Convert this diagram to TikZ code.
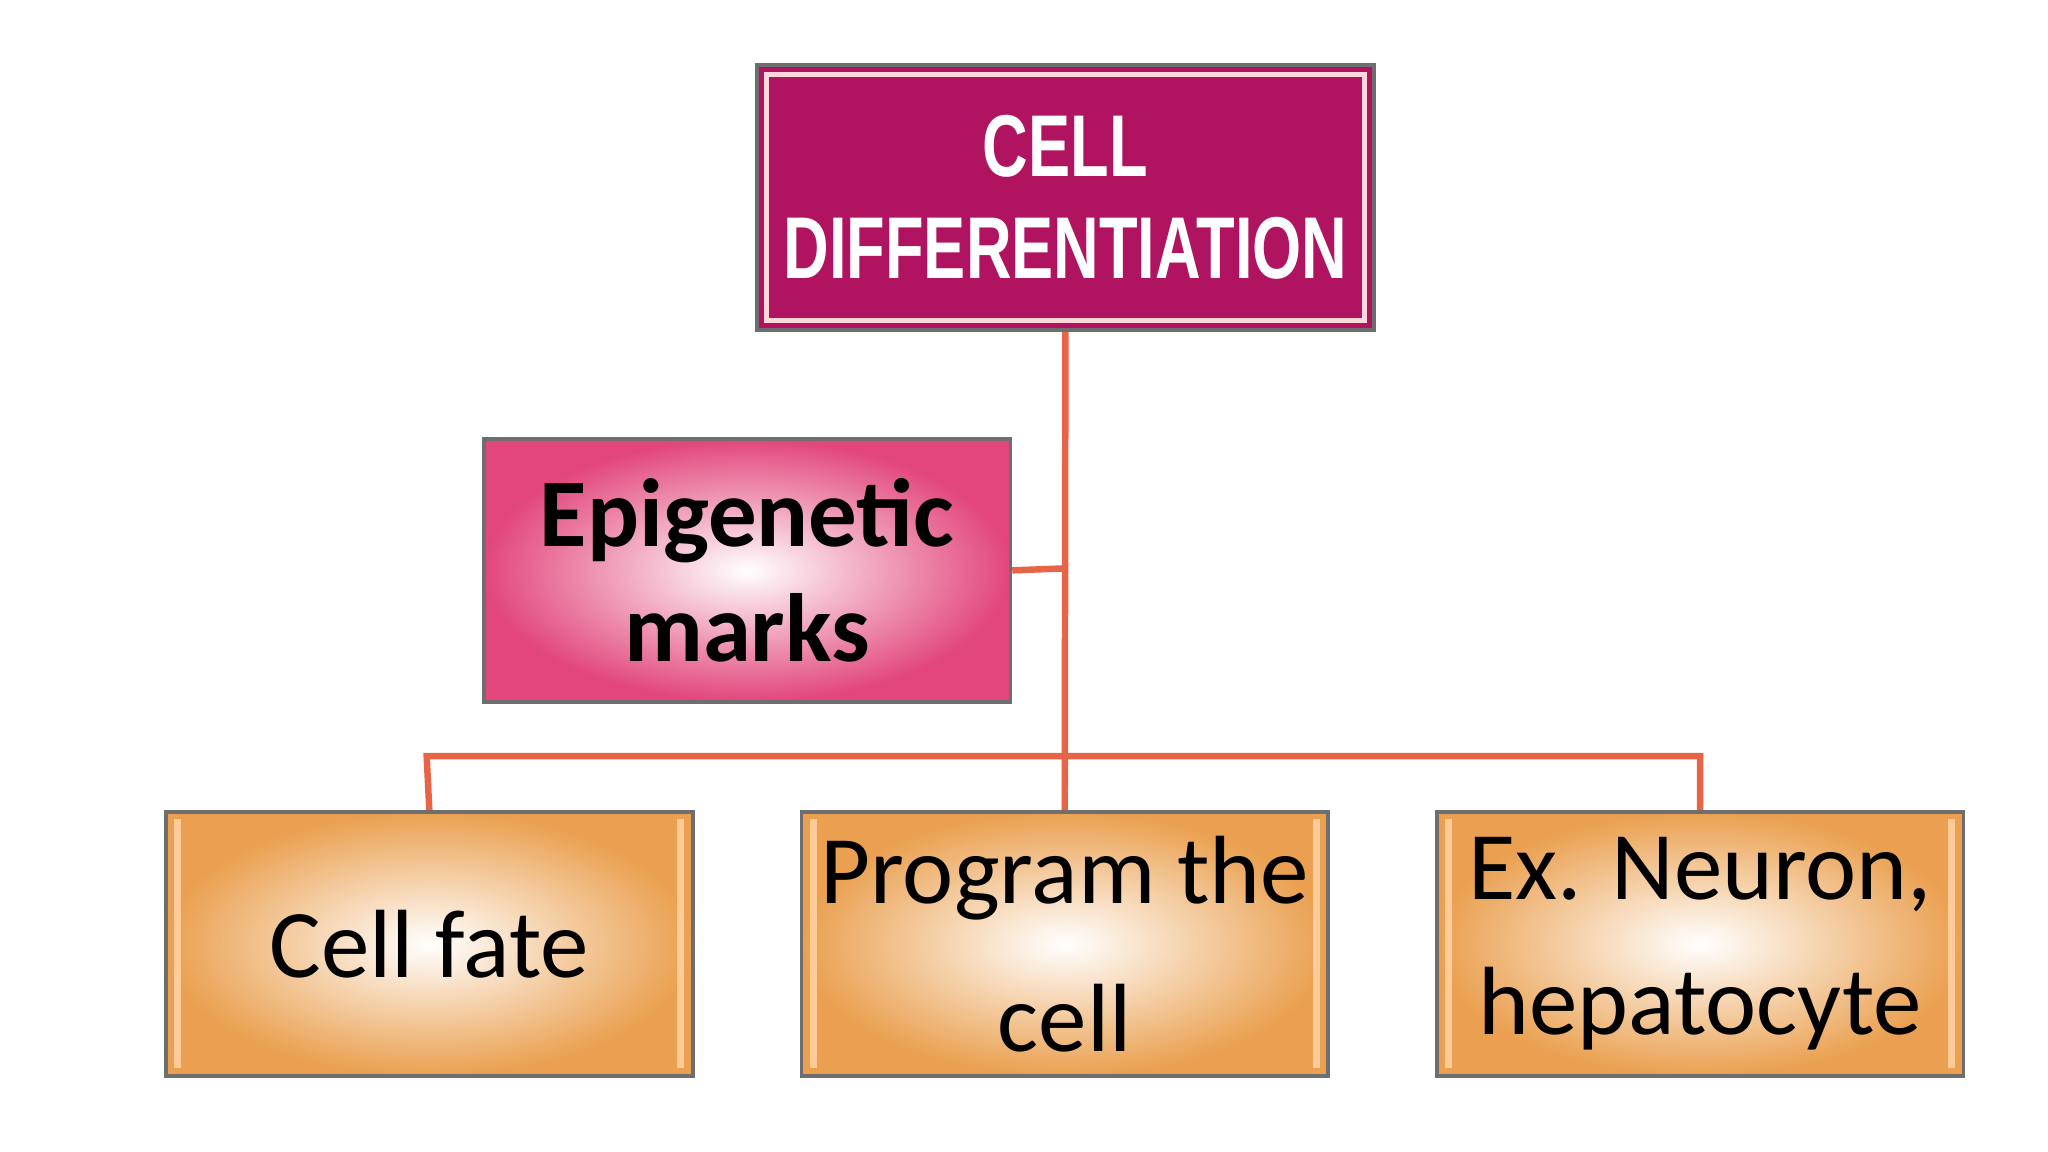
\documentclass[tikz,border=0pt]{standalone}
\usepackage{fontspec}
\setmainfont{Carlito}
\newfontfamily\headfont{Liberation Sans}[FakeStretch=0.72]
\definecolor{topfill}{RGB}{176,19,96}
\definecolor{pinkout}{RGB}{226,70,124}
\definecolor{orangeout}{RGB}{234,160,80}
\definecolor{linec}{RGB}{232,100,70}
\definecolor{edgec}{RGB}{110,110,110}
\begin{document}
\begin{tikzpicture}[x=0.01cm,y=-0.01cm,
  box/.style={draw=edgec,line width=0.8pt,inner sep=0pt,anchor=north west},
  conn/.style={draw=linec,line width=1.4pt}]
\useasboundingbox (0,0) rectangle (1560,877);
\fill[white] (0,0) rectangle (1560,877);
% top
\node[box,fill=topfill,minimum width=470\pgflinewidth,text width=4.6cm,align=center,
  minimum width=4.7cm,minimum height=2.02cm,text=white,
  font=\headfont\bfseries\fontsize{19}{22}\selectfont] (top) at (575,48) {CELL\\DIFFERENTIATION};
\draw[pink!60,line width=1.2pt] ([xshift=2.5pt,yshift=-2.5pt]top.north west) rectangle ([xshift=-2.5pt,yshift=2.5pt]top.south east);
% epigenetic
\node[box,inner color=white,outer color=pinkout,minimum width=4.01cm,minimum height=2.0cm,
  align=center,font=\bfseries\fontsize{21}{25}\selectfont] (epi) at (367,333) {Epigenetic\\marks};
% bottom
\foreach \n/\x/\t in {a/125/{Cell fate},b/609/{Program the\\[0.25cm]cell},c/1093/{Ex. Neuron,\\[0.15cm]hepatocyte}}{
  \node[box,inner color=white,outer color=orangeout,minimum width=4.01cm,minimum height=2.01cm,
    align=center,font=\fontsize{21}{25}\selectfont] (\n) at (\x,617) {\t};
  \draw[orange!40,line width=1.5pt] ([xshift=3pt,yshift=-2pt]\n.north west) -- ([xshift=3pt,yshift=2pt]\n.south west);
  \draw[orange!40,line width=1.5pt] ([xshift=-3pt,yshift=-2pt]\n.north east) -- ([xshift=-3pt,yshift=2pt]\n.south east);
}
\coordinate (j1) at (810,433);
\coordinate (j2) at (810,576);
\coordinate (la) at (325,576);
\coordinate (lc) at (1295,576);
\draw[conn] (top.south) -- (b.north);
\draw[conn] (epi.east) -- (j1);
\draw[conn] (a.north) -- (la) -- (lc) -- (c.north);
\end{tikzpicture}
\end{document}
